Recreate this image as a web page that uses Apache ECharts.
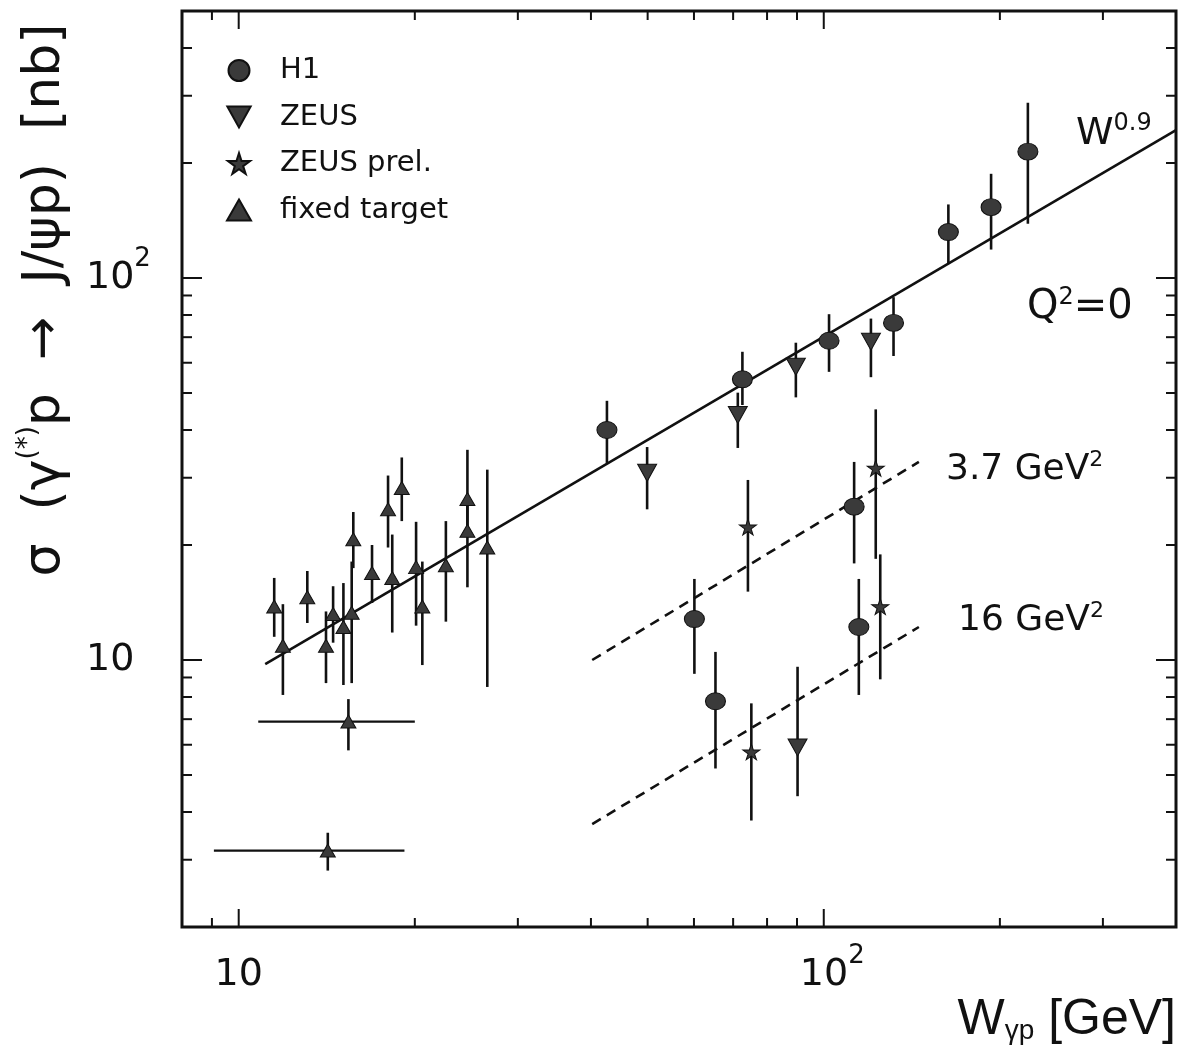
<!DOCTYPE html>
<html><head><meta charset="utf-8">
<script src="https://cdn.jsdelivr.net/npm/echarts@6/dist/echarts.min.js"></script>
<style>html,body{margin:0;padding:0;background:#fff}#c{width:1180px;height:1046px}</style>
</head><body><div id="c"></div>
<script>
// ---- data: [W, sigma, sigmaLow, sigmaHigh] ----
const h1Q0 = [[42.6,40.0,32.8,47.7],[72.6,54.3,46.5,64.1],[102.1,68.5,56.8,80.4],[131.6,76.3,62.5,89.1],[163.3,131.9,109.4,155.8],[193.2,153.3,118.7,187.4],[223.3,214.2,138.7,287.6]];
const h1Q37 = [[60.1,12.8,9.2,16.3],[112.7,25.2,17.9,33.0]];
const h1Q16 = [[65.3,7.8,5.2,10.5],[114.8,12.2,8.1,16.3]];
const zeusQ0 = [[49.9,30.9,24.8,36.1],[71.3,43.8,35.9,50.1],[89.6,58.6,48.7,67.7],[120.4,68.1,55.0,78.3]];
const zeusQ16 = [[90.2,5.9,4.4,9.6]];
const zeusPrelQ37 = [[74.2,22.3,15.1,29.6],[122.7,31.8,18.4,45.3]];
const zeusPrelQ16 = [[75.2,5.75,3.8,7.7],[124.9,13.8,8.9,18.9]];
const fixedTarget = [
 [11.5,13.8,11.5,16.4],[11.9,10.9,8.1,14.0],[13.1,14.6,12.5,17.1],[14.1,10.9,8.7,13.4],
 [14.5,13.2,11.1,15.6],[15.1,12.2,8.6,15.9],[15.6,13.3,8.7,18.1],[15.7,20.7,17.4,24.4],
 [16.9,16.9,14.1,20.0],[18.0,24.8,19.7,30.4],[18.3,16.4,11.8,21.3],[19.0,28.2,23.1,33.9],
 [20.1,17.5,12.3,23.0],[20.6,13.8,9.7,18.1],[22.6,17.7,12.6,23.1],[24.6,26.4,21.8,35.5],
 [24.6,21.8,15.5,26.3],[26.6,19.7,8.5,31.5]];
// [W, sigma, sigmaLow, sigmaHigh, Wlow, Whigh]
const fixedTargetWide = [[15.4,6.9,5.8,7.9,10.8,20.0],[14.2,3.17,2.81,3.53,9.07,19.2]];
// lines
const fitW = [11.1, 400];   const fitSigma = [9.75, 244];
const dash37W = [40.2, 145.4]; const dash37Sigma = [10.0, 33.0];
const dash16W = [40.2, 145.4]; const dash16Sigma = [3.72, 12.2];
// axes
const X_MIN = 8, X_MAX = 400, Y_MIN = 2, Y_MAX = 500;
const xMajorTicks = [10, 100];
const xMinorTicks = [9, 20, 30, 40, 50, 60, 70, 80, 90, 200, 300];
const yMajorTicks = [10, 100];
const yMinorTicks = [3, 4, 5, 6, 7, 8, 9, 20, 30, 40, 50, 60, 70, 80, 90, 200, 300, 400];

const FONT = '"DejaVu Sans", sans-serif';
const INK = '#111';
const FILL = '#3a3a3a';

const pts = a => a.map(d => [d[0], d[1]]);
const errData = [].concat(h1Q0, h1Q37, h1Q16, zeusQ0, zeusQ16, zeusPrelQ37, zeusPrelQ16, fixedTarget, fixedTargetWide)
  .map(d => [d[0], d[1], d[2], d[3], d.length > 4 ? d[4] : 0, d.length > 5 ? d[5] : 0]);
const tickData = [].concat(
  xMajorTicks.map(v => [v, Y_MIN, 0]), xMinorTicks.map(v => [v, Y_MIN, 1]),
  yMajorTicks.map(v => [X_MIN, v, 2]), yMinorTicks.map(v => [X_MIN, v, 3]));

const labelFmt = (pad) => v => {
  const e = Math.log10(v), r = Math.round(e);
  if (Math.abs(e - r) > 1e-6) return '';
  if (r === 1) return '10';
  return (pad ? '{pad|}' : '') + '10{sup|' + r + '}';
};
const labelRich = {
  sup: {fontSize: 26, lineHeight: 26, verticalAlign: 'top', fontFamily: FONT, color: INK},
  pad: {width: 17}
};

const STAR = 'path://M50,0 L61,35 L98,35 L68,57 L79,91 L50,70 L21,91 L32,57 L2,35 L39,35 Z';
const DOWN = 'path://M0,0 L20,0 L10,18 Z';

const chart = echarts.init(document.getElementById('c'), null, {renderer: 'canvas'});
chart.setOption({
  animation: false,
  backgroundColor: '#fff',
  grid: {left: 182, top: 11, width: 994, height: 916, show: true, borderColor: INK, borderWidth: 3, backgroundColor: 'transparent'},
  xAxis: {
    type: 'log', logBase: 10, min: X_MIN, max: X_MAX,
    axisLine: {show: false}, axisTick: {show: false}, splitLine: {show: false}, minorTick: {show: false},
    axisLabel: {
      formatter: labelFmt(true), showMinLabel: false, showMaxLabel: false,
      fontSize: 38, lineHeight: 64, fontFamily: FONT, color: INK, margin: 16, verticalAlign: 'top',
      rich: labelRich
    }
  },
  yAxis: {
    type: 'log', logBase: 10, min: Y_MIN, max: Y_MAX,
    axisLine: {show: false}, axisTick: {show: false}, splitLine: {show: false}, minorTick: {show: false},
    axisLabel: {
      formatter: labelFmt(false), showMinLabel: false, showMaxLabel: false,
      fontSize: 38, lineHeight: 64, fontFamily: FONT, color: INK, margin: 96, align: 'left',
      rich: labelRich
    }
  },
  legend: {
    orient: 'vertical', left: 221, top: 51, itemWidth: 24, itemHeight: 21, itemGap: 17.5,
    data: ['H1', 'ZEUS', 'ZEUS prel.', 'fixed target'],
    textStyle: {fontSize: 29, fontFamily: FONT, color: INK, padding: [0, 0, 0, 24]},
    selectedMode: false
  },
  graphic: [
    {type: 'text', x: 45, y: 300, rotation: Math.PI / 2, silent: true,
     style: {text: 'σ  (γ{sup|(*)}p  →  J/ψp)  [nb]', font: '52px ' + FONT, fill: INK, align: 'center', verticalAlign: 'middle',
             lineHeight: 60,
             rich: {sup: {fontSize: 26, lineHeight: 26, verticalAlign: 'top', fontFamily: FONT, fill: INK}}}},
    {type: 'text', x: 1176, y: 1020, silent: true,
     style: {text: 'W{sub|γp} [GeV]', font: '50px "Liberation Sans", Arial, sans-serif', fill: INK, align: 'right', verticalAlign: 'middle',
             lineHeight: 50,
             rich: {sub: {fontSize: 28, lineHeight: 28, verticalAlign: 'bottom', fontFamily: '"Liberation Sans", Arial, sans-serif', fill: INK}}}},
    {type: 'text', x: 1076, y: 134, silent: true,
     style: {text: 'W{sup|0.9}', font: '38px ' + FONT, fill: INK, align: 'left', verticalAlign: 'middle', lineHeight: 44,
             rich: {sup: {fontSize: 24, lineHeight: 24, verticalAlign: 'top', fontFamily: FONT, fill: INK}}}},
    {type: 'text', x: 1027, y: 308, silent: true,
     style: {text: 'Q{sup|2}=0', font: '40px ' + FONT, fill: INK, align: 'left', verticalAlign: 'middle', lineHeight: 44,
             rich: {sup: {fontSize: 24, lineHeight: 24, verticalAlign: 'top', fontFamily: FONT, fill: INK}}}},
    {type: 'text', x: 946, y: 470, silent: true,
     style: {text: '3.7 GeV{sup|2}', font: '36px ' + FONT, fill: INK, align: 'left', verticalAlign: 'middle', lineHeight: 42,
             rich: {sup: {fontSize: 22, lineHeight: 22, verticalAlign: 'top', fontFamily: FONT, fill: INK}}}},
    {type: 'text', x: 958, y: 621, silent: true,
     style: {text: '16 GeV{sup|2}', font: '36px ' + FONT, fill: INK, align: 'left', verticalAlign: 'middle', lineHeight: 42,
             rich: {sup: {fontSize: 22, lineHeight: 22, verticalAlign: 'top', fontFamily: FONT, fill: INK}}}}
  ],
  series: [
    {type: 'custom', name: 'ticks', silent: true, z: 5,
     renderItem: (params, api) => {
       const cs = params.coordSys, k = api.value(2);
       const p = api.coord([api.value(0), api.value(1)]);
       const st = {stroke: INK, lineWidth: 2};
       if (k < 2) {
         const L = k === 0 ? 18 : 9, b = cs.y + cs.height;
         return {type: 'group', children: [
           {type: 'line', shape: {x1: p[0], y1: b, x2: p[0], y2: b - L}, style: st},
           {type: 'line', shape: {x1: p[0], y1: cs.y, x2: p[0], y2: cs.y + L}, style: st}]};
       }
       const L = k === 2 ? 20 : 10, r = cs.x + cs.width;
       return {type: 'group', children: [
         {type: 'line', shape: {x1: cs.x, y1: p[1], x2: cs.x + L, y2: p[1]}, style: st},
         {type: 'line', shape: {x1: r, y1: p[1], x2: r - L, y2: p[1]}, style: st}]};
     },
     data: tickData},
    {type: 'line', name: 'fit', data: fitW.map((w, i) => [w, fitSigma[i]]), showSymbol: false, silent: true,
     lineStyle: {color: INK, width: 2.6}, z: 2},
    {type: 'line', name: 'dash37', data: dash37W.map((w, i) => [w, dash37Sigma[i]]), showSymbol: false, silent: true,
     lineStyle: {color: INK, width: 2.6, type: [10, 7]}, z: 2},
    {type: 'line', name: 'dash16', data: dash16W.map((w, i) => [w, dash16Sigma[i]]), showSymbol: false, silent: true,
     lineStyle: {color: INK, width: 2.6, type: [10, 7]}, z: 2},
    {type: 'custom', name: 'errors', silent: true, z: 3,
     dimensions: ['w', 's', 'lo', 'hi', 'wlo', 'whi'],
     encode: {x: 0, y: 1},
     renderItem: (params, api) => {
       const w = api.value(0), s = api.value(1);
       const a = api.coord([w, api.value(2)]), b = api.coord([w, api.value(3)]);
       const children = [{type: 'line', shape: {x1: a[0], y1: a[1], x2: b[0], y2: b[1]}, style: {stroke: INK, lineWidth: 2.6}}];
       const wlo = api.value(4), whi = api.value(5);
       if (wlo > 0 && whi > 0) {
         const c = api.coord([wlo, s]), d = api.coord([whi, s]);
         children.push({type: 'line', shape: {x1: c[0], y1: c[1], x2: d[0], y2: d[1]}, style: {stroke: INK, lineWidth: 2.2}});
       }
       return {type: 'group', children};
     },
     data: errData},
    {type: 'scatter', name: 'H1', data: pts([].concat(h1Q0, h1Q37, h1Q16)), symbol: 'circle', symbolSize: [20, 17],
     itemStyle: {color: FILL, borderColor: INK, borderWidth: 1, opacity: 1}, z: 4},
    {type: 'scatter', name: 'ZEUS', data: pts([].concat(zeusQ0, zeusQ16)), symbol: DOWN, symbolSize: [19, 17],
     itemStyle: {color: FILL, borderColor: INK, borderWidth: 1, opacity: 1}, z: 4},
    {type: 'scatter', name: 'ZEUS prel.', data: pts([].concat(zeusPrelQ37, zeusPrelQ16)), symbol: STAR, symbolSize: [17, 16],
     itemStyle: {color: FILL, borderColor: INK, borderWidth: 1, opacity: 1}, z: 4},
    {type: 'scatter', name: 'fixed target', data: pts([].concat(fixedTarget, fixedTargetWide)), symbol: 'triangle', symbolSize: [15, 13],
     itemStyle: {color: FILL, borderColor: INK, borderWidth: 1, opacity: 1}, z: 4}
  ]
});
</script></body></html>
